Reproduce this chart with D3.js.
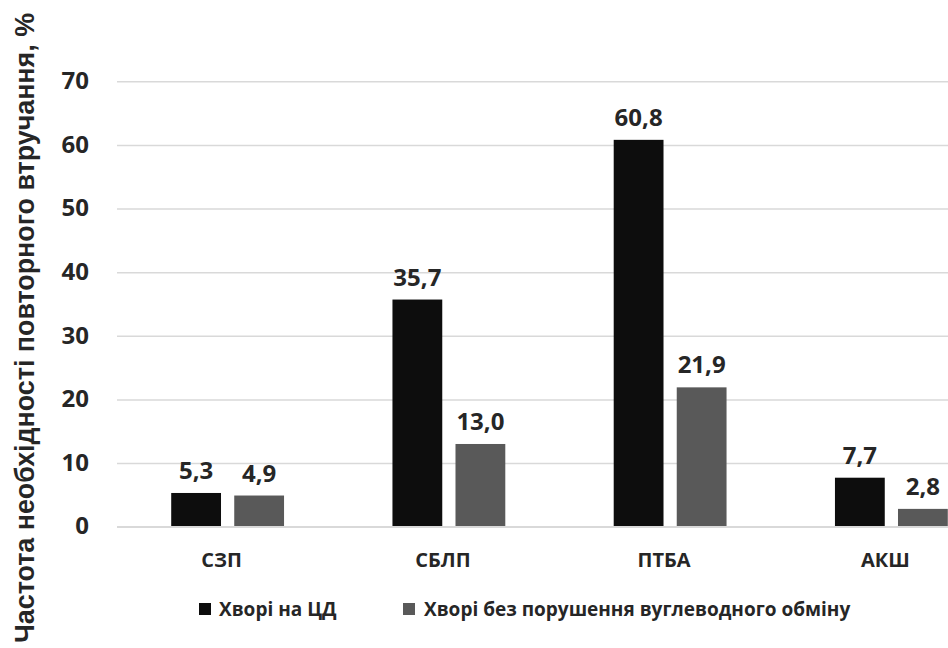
<!DOCTYPE html>
<html>
<head>
<meta charset="utf-8">
<script src="https://cdn.jsdelivr.net/npm/d3@7"></script>
<style>
  html, body { margin: 0; padding: 0; background: #ffffff; }
  svg { display: block; }
</style>
</head>
<body>
<svg id="chart" width="948" height="648"></svg>
<script>
// ---- data ----
const categories = ["СЗП", "СБЛП", "ПТБА", "АКШ"];
const seriesNames = ["Хворі на ЦД", "Хворі без порушення вуглеводного обміну"];
const valuesCD = [5.3, 35.7, 60.8, 7.7];
const valuesNoCD = [4.9, 13.0, 21.9, 2.8];
const yTicks = [0, 10, 20, 30, 40, 50, 60, 70];
const yTitle = "Частота необхідності повторного втручання, %";

// ---- styles ----
const colors = ["#0d0d0d", "#595959"];
const numFont = "'Open Sans', 'DejaVu Sans', sans-serif";

const svg = d3.select("#chart");
const W = 948, H = 648;

const rows = categories.map((c, i) => ({ cat: c, vals: [valuesCD[i], valuesNoCD[i]] }));

const x0 = d3.scaleBand().domain(categories).range([117, 1002])
  .paddingInner(0.49).paddingOuter(0.245);
const x1 = d3.scaleBand().domain(d3.range(seriesNames.length))
  .range([0, x0.bandwidth()]).paddingInner(0.21).paddingOuter(0);
const y = d3.scaleLinear().domain([0, 70]).range([526.7, 81.3]);

// gridlines
const yAxisG = svg.append("g").attr("transform", "translate(117,0)")
  .call(d3.axisLeft(y).tickValues(yTicks).tickSize(-(W - 117)).tickFormat(d3.format("d")).tickPadding(28));
yAxisG.select(".domain").remove();
yAxisG.selectAll(".tick line").attr("stroke", "#d9d9d9").attr("stroke-width", 1.5);
yAxisG.selectAll(".tick text")
  .attr("fill", "#262626")
  .style("font-family", numFont)
  .style("font-weight", "700")
  .style("font-size", "24px")
  .attr("dy", "0.3em");

// bars
const groups = svg.append("g").selectAll("g").data(rows).join("g")
  .attr("transform", d => `translate(${x0(d.cat)},0)`);

groups.selectAll("rect").data(d => d.vals.map((v, k) => ({ v, k }))).join("rect")
  .attr("x", d => x1(d.k))
  .attr("width", x1.bandwidth())
  .attr("y", d => y(d.v))
  .attr("height", d => y(0) - y(d.v))
  .attr("fill", d => colors[d.k]);

const fmt = v => d3.format(".1f")(v).replace(".", ",");
groups.selectAll("text.val").data(d => d.vals.map((v, k) => ({ v, k }))).join("text")
  .attr("class", "val")
  .attr("x", d => x1(d.k) + x1.bandwidth() / 2)
  .attr("y", d => y(d.v) - 14)
  .attr("text-anchor", "middle")
  .attr("fill", "#262626")
  .style("font-family", numFont)
  .style("font-weight", "700")
  .style("font-size", "24px")
  .text(d => fmt(d.v));

// category labels
const xAxisG = svg.append("g").attr("transform", `translate(0,${y(0)})`)
  .call(d3.axisBottom(x0).tickSize(0).tickPadding(0));
xAxisG.select(".domain").attr("stroke", "#d9d9d9").attr("stroke-width", 1.5)
  .attr("d", `M117,0H${W}`);
xAxisG.selectAll(".tick text")
  .attr("y", 33)
  .attr("dy", "0.35em")
  .attr("dx", -6)
  .attr("fill", "#262626")
  .style("font-family", numFont)
  .style("font-weight", "700")
  .style("font-size", "20px");

// legend
const legendX = [199, 403];
const leg = svg.append("g").selectAll("g").data(seriesNames).join("g")
  .attr("transform", (d, i) => `translate(${legendX[i]},609)`);
leg.append("rect").attr("x", 0).attr("y", -6).attr("width", 12).attr("height", 12)
  .attr("fill", (d, i) => colors[i]);
leg.append("text").attr("x", (d, i) => i === 0 ? 20 : 21).attr("y", 0).attr("dy", "0.35em")
  .attr("fill", "#262626")
  .style("font-family", numFont)
  .style("font-weight", "700")
  .style("font-size", "19px")
  .text(d => d);

// y-axis title
svg.append("text")
  .attr("transform", "translate(34,328) rotate(-90)")
  .attr("text-anchor", "middle")
  .attr("fill", "#262626")
  .style("font-family", "'Liberation Sans', Arial, sans-serif")
  .style("font-weight", "700")
  .style("font-size", "27px")
  .attr("textLength", 630)
  .attr("lengthAdjust", "spacingAndGlyphs")
  .text(yTitle);
</script>
</body>
</html>
